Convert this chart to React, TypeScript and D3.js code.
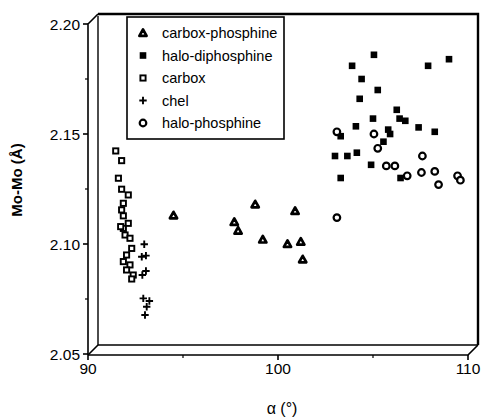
import React from "react";
import * as d3 from "d3";

const carboxPhosphine: [number, number][] = [
  [94.5, 2.113], [98.8, 2.118], [97.7, 2.110], [97.9, 2.106], [100.9, 2.115],
  [99.2, 2.102], [100.5, 2.100], [101.2, 2.101], [101.3, 2.093],
];
const haloDiphosphine: [number, number][] = [
  [105.05, 2.186], [103.9, 2.181], [104.4, 2.175], [105.25, 2.170], [104.3, 2.166],
  [106.25, 2.161], [106.4, 2.157], [106.7, 2.156], [105.0, 2.157], [104.1, 2.1535],
  [105.8, 2.152], [105.9, 2.150], [105.55, 2.1465], [103.0, 2.140], [103.65, 2.140],
  [104.15, 2.1415], [104.9, 2.136], [103.3, 2.130], [106.45, 2.130], [109.0, 2.184],
  [107.9, 2.181], [107.4, 2.153], [108.25, 2.151], [103.3, 2.149],
];
const carbox: [number, number][] = [
  [91.46, 2.1423], [91.77, 2.1379], [91.6, 2.1299], [91.77, 2.1249], [92.12, 2.1223],
  [91.86, 2.1185], [91.77, 2.1155], [91.86, 2.1128], [92.12, 2.1094], [91.86, 2.1071],
  [91.95, 2.1041], [92.21, 2.1026], [92.3, 2.098], [92.03, 2.095], [91.86, 2.092],
  [92.21, 2.0905], [92.03, 2.0882], [92.38, 2.0859], [92.3, 2.0841], [91.72, 2.1079],
];
const chel: [number, number][] = [
  [92.96, 2.0999], [92.83, 2.0942], [93.05, 2.0947], [92.86, 2.0859], [93.05, 2.0877],
  [92.91, 2.0753], [93.23, 2.0741], [93.09, 2.0715], [93.0, 2.0677],
];
const haloPhosphine: [number, number][] = [
  [103.1, 2.151], [105.05, 2.150], [105.25, 2.1435], [105.7, 2.1355], [106.15, 2.1355],
  [107.6, 2.140], [106.8, 2.131], [107.55, 2.1325], [108.25, 2.133], [108.45, 2.127],
  [109.45, 2.131], [109.6, 2.129], [103.1, 2.112],
];

const xMajorTicks = [90, 100, 110];
const xMinorTicks = [95, 105];
const yMajorTicks = [2.05, 2.10, 2.15, 2.20];
const yMinorTicks = [2.075, 2.125, 2.175];
const legendLabels = ["carbox-phosphine", "halo-diphosphine", "carbox", "chel", "halo-phosphine"];
const seriesKinds = ["triangle", "filledSquare", "openSquare", "plus", "circle"];

const FONT = "'Liberation Sans', Arial, Helvetica, sans-serif";

function Marker({ kind, x, y }: { kind: string; x: number; y: number }) {
  switch (kind) {
    case "triangle": {
      const s = 3.6;
      return (
        <path
          d={`M${x},${y - s}L${x + s},${y + s * 0.8}L${x - s},${y + s * 0.8}Z`}
          fill="white"
          stroke="black"
          strokeWidth={2.7}
          strokeLinejoin="round"
        />
      );
    }
    case "filledSquare":
      return <rect x={x - 3.3} y={y - 3.3} width={6.6} height={6.6} fill="black" />;
    case "openSquare":
      return <rect x={x - 2.6} y={y - 2.6} width={5.2} height={5.2} fill="white" stroke="black" strokeWidth={1.9} />;
    case "plus":
      return (
        <path d={`M${x - 3.7},${y}H${x + 3.7}M${x},${y - 3.7}V${y + 3.7}`} stroke="black" strokeWidth={1.9} />
      );
    case "circle":
      return <circle cx={x} cy={y} r={3.3} fill="white" stroke="black" strokeWidth={2.2} />;
  }
  return null;
}

export default function App() {
  const x = d3.scaleLinear().domain([90, 110]).range([88, 468]);
  const y = d3.scaleLinear().domain([2.05, 2.2]).range([354, 24]);
  const d = 10;
  const x0 = x(90), x1 = x(110), yTop = y(2.2), yBot = y(2.05) + 1;

  const series = [carboxPhosphine, haloDiphosphine, carbox, chel, haloPhosphine];

  return (
    <svg
      width={485}
      height={417}
      style={{ position: "absolute", left: 0, top: 0, background: "white" }}
      fontFamily={FONT}
    >
      <rect width={485} height={417} fill="white" />
      <g fill="none" stroke="black">
        <path d={`M${x0 + d},${yBot - d}V${yTop - d + 2}`} strokeWidth={1.4} />
        <path d={`M${x0 + d},${yTop - d}H${x1 + d}V${yBot - d}`} strokeWidth={2.4} />
        <path d={`M${x0 + d},${yBot - d}H${x1 + d}`} strokeWidth={1.6} />
        <path d={`M${x0},${yBot}V${yTop}L${x0 + d},${yTop - d}`} strokeWidth={1.6} />
        <path d={`M${x0},${yBot}H${x1}L${x1 + d},${yBot - d}`} strokeWidth={1.6} />
        <path d={`M${x0},${yBot}L${x0 + d},${yBot - d}`} strokeWidth={1.6} />
      </g>
      {yMajorTicks.map((t) => (
        <g key={"ym" + t}>
          <line x1={x0 - 5} x2={x0} y1={y(t)} y2={y(t)} stroke="black" strokeWidth={1.6} />
          <text x={x0 - 8} y={y(t)} dy="0.36em" textAnchor="end" fontSize={15.5}>
            {t.toFixed(2)}
          </text>
        </g>
      ))}
      {yMinorTicks.map((t) => (
        <line key={"yn" + t} x1={x0 - 3} x2={x0} y1={y(t)} y2={y(t)} stroke="black" strokeWidth={1.2} />
      ))}
      {xMajorTicks.map((t) => (
        <g key={"xm" + t}>
          <line x1={x(t)} x2={x(t)} y1={yBot} y2={yBot + 5} stroke="black" strokeWidth={1.6} />
          <text x={x(t)} y={yBot + 19} textAnchor="middle" fontSize={15.5}>
            {t}
          </text>
        </g>
      ))}
      {xMinorTicks.map((t) => (
        <line key={"xn" + t} x1={x(t)} x2={x(t)} y1={yBot} y2={yBot + 3} stroke="black" strokeWidth={1.2} />
      ))}
      <text x={282} y={414} textAnchor="middle" fontSize={16}>
        α (°)
      </text>
      <text
        transform={`translate(22,180) rotate(-90)`}
        textAnchor="middle"
        fontSize={15}
        fontWeight="bold"
      >
        Mo-Mo  (Å)
      </text>
      {series.map((s, i) =>
        s.map((p, j) => <Marker key={i + "-" + j} kind={seriesKinds[i]} x={x(p[0])} y={y(p[1])} />)
      )}
      <rect x={127} y={17} width={157} height={122} fill="white" stroke="black" strokeWidth={1.6} />
      {legendLabels.map((l, i) => (
        <g key={l}>
          <Marker kind={seriesKinds[i]} x={143} y={33 + i * 22.5} />
          <text x={162} y={33 + i * 22.5} dy="0.35em" fontSize={14.5}>
            {l}
          </text>
        </g>
      ))}
    </svg>
  );
}
